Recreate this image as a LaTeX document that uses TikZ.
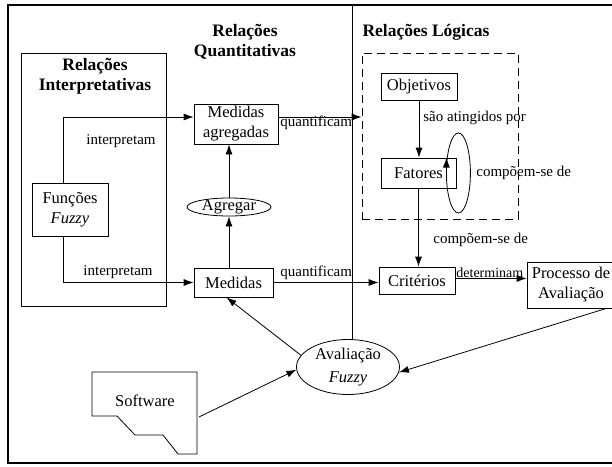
\documentclass[tikz,border=0pt]{standalone}
\usepackage{fontspec}
\setmainfont{Liberation Serif}
\usetikzlibrary{arrows.meta,shapes.geometric}

\begin{document}
\begin{tikzpicture}[x=1pt,y=-1pt,
	box/.style={draw,inner sep=0pt,align=center,font=\fontsize{16.5}{20}\selectfont},
	oval/.style={draw,ellipse,inner sep=0pt,align=center,font=\fontsize{16.5}{23}\selectfont},
	lbl/.style={inner sep=0pt,font=\fontsize{15}{16}\selectfont},
	ttl/.style={inner sep=0pt,align=center,font=\fontsize{17.5}{20}\selectfont\bfseries},
	arr/.style={line width=0.8pt,-{Latex[length=10pt,width=7pt]}}]
	\useasboundingbox (0,0) rectangle (612,466);
	\tikzset{every path/.append style={line width=0.8pt}}

	% frame and regions
	\draw[line width=1.1pt] (612,5) -- (8,5) -- (8,463) -- (612,463);
	\draw (352,5) -- (352,340);
	\draw (21,53) rectangle (166,306);
	\node[draw,dash pattern=on 8pt off 5pt,minimum width=156,minimum height=166] (logic) at (440,136) {};

	\node[ttl] at (245,42) {Relações\\Quantitativas};
	\node[ttl] at (95,76) {Relações\\Interpretativas};
	\node[ttl] at (426,32) {Relações Lógicas};

	% nodes
	\node[box,minimum width=84,minimum height=40] (magg) at (236,124) {Medidas\\agregadas};
	\node[box,minimum width=79,minimum height=29] (med) at (233.5,282.5) {Medidas};
	\node[box,minimum width=76,minimum height=53] (fun) at (70,209.5) {Funções\\\textit{Fuzzy}};
	\node[oval,minimum width=84,minimum height=18,text height=9,text depth=2] (agr) at (229,207) {Agregar};
	\node[box,minimum width=76,minimum height=27] (obj) at (419,86.5) {Objetivos};
	\node[box,minimum width=75,minimum height=30] (fat) at (418.5,173) {Fatores};
	\node[box,minimum width=76,minimum height=27] (crit) at (417,280.5) {Critérios};
	\node[box,minimum width=88,minimum height=46] (proc) at (571,285) {Processo de\\Avaliação};
	\node[oval,minimum width=103,minimum height=55] (ava) at (348,367) {Avaliação\\\textit{Fuzzy}};

	% software
	\draw (92,372) -- (197,372) -- (197,454) -- (178,454) -- (163,435)
		-- (135,435) -- (117,416) -- (92,416) -- cycle;
	\node[inner sep=0pt,font=\fontsize{16.5}{20}\selectfont] (sw) at (145,401) {Software};
	\coordinate (swout) at (199,417);

	% connectors
	\draw[arr] ([xshift=-7]fun.north) |- ([yshift=7]magg.west);
	\draw[arr] ([xshift=-7]fun.south) |- (med.west);
	\draw[arr] ([yshift=7]magg.east) -- ([yshift=7]magg.east -| logic.west);
	\draw[arr] (med.east) -- (med.east -| crit.west);
	\draw[arr] (agr.south |- med.north) -- (agr.south);
	\draw[arr] (agr.north) -- (agr.north |- magg.south);
	\draw[arr] (obj.south) -- (obj.south |- fat.north);
	\draw[arr] (fat.south) -- (fat.south |- crit.north);
	\draw[arr] ([yshift=2]crit.east) -- ([yshift=2]crit.east -| proc.west);
	\draw[arr] (ava.166) -- ([xshift=-7]med.south);
	\draw[arr] ([xshift=-9]proc.south east) -- (ava.-6);
	\draw[arr] (swout) -- (ava.183);
	% loop on Fatores
	\draw ([xshift=2]fat.east) ellipse (12 and 40);
	\draw[arr] ([xshift=-10,yshift=-10]fat.north east) -- ([xshift=-10]fat.north east);

	% labels
	\node[lbl] at (121,141) {interpretam};
	\node[lbl] at (118,272) {interpretam};
	\node[lbl,anchor=west] at (280,123) {quantificam};
	\node[lbl,anchor=west] at (280,273) {quantificam};
	\node[lbl,anchor=west] at (423,118) {são atingidos por};
	\node[lbl,anchor=west] at (476,173) {compõem-se de};
	\node[lbl,anchor=west] at (433,240) {compõem-se de};
	\node[lbl,anchor=west,font=\fontsize{14}{16}\selectfont] at (456,273) {determinam};
\end{tikzpicture}
\end{document}
